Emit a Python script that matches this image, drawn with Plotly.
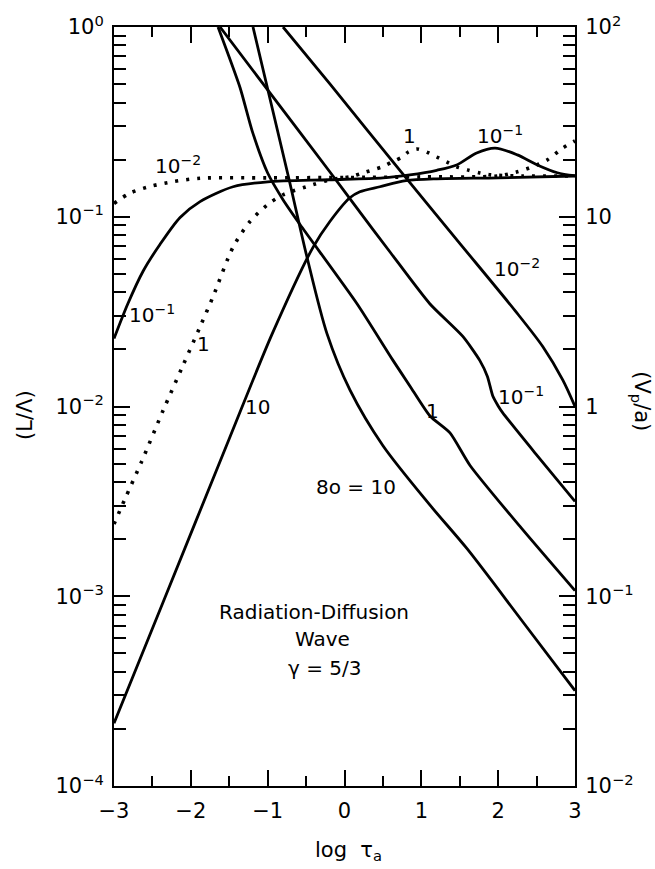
import plotly.graph_objects as go

# ---------------- data ----------------
# L/Lambda curves (left axis), labelled by the parameter value
x_L_001 = [-3, -2.79, -2.53, -2.23, -1.88, -1.0, 0.0, 1.0, 2.0, 2.25, 2.41, 2.64, 2.84, 3.0]
L_001 = [0.1175, 0.1334, 0.1445, 0.1531, 0.1596, 0.1603, 0.161, 0.1622, 0.164, 0.1726, 0.1811, 0.1995, 0.230, 0.251]

x_L_01 = [-3, -2.82, -2.62, -2.40, -2.14, -1.88, -1.45, -1.0, -0.2, 0.5, 0.85, 1.2, 1.46, 1.72, 1.96, 2.25, 2.51, 2.77, 3.0]
L_01 = [0.0228, 0.0348, 0.0518, 0.0716, 0.0991, 0.1202, 0.1439, 0.1528, 0.1567, 0.1603, 0.1663, 0.1758, 0.1875, 0.2168, 0.2301, 0.2118, 0.1875, 0.1706, 0.1644]

x_L_1 = [-3, -2.86, -2.64, -2.36, -2.11, -1.88, -1.71, -1.45, -1.23, -1.0, -0.8, -0.41, -0.19, 0.07, 0.24, 0.49, 0.62, 0.75, 0.83, 0.94, 1.07, 1.2, 1.33, 1.46, 1.6, 1.76, 1.9, 2.3, 3.0]
L_1 = [0.0024, 0.00324, 0.00513, 0.00955, 0.0162, 0.0263, 0.038, 0.0692, 0.0944, 0.1159, 0.1306, 0.1476, 0.1567, 0.1622, 0.1702, 0.1832, 0.1945, 0.2065, 0.2193, 0.2275, 0.2193, 0.2065, 0.1945, 0.1832, 0.1766, 0.1702, 0.1663, 0.1641, 0.1641]

x_L_10 = [-3, -2.36, -1.5, -0.94, -0.41, -0.19, 0.07, 0.2, 0.46, 0.8, 1.2, 2.0, 3.0]
L_10 = [2.14e-4, 9.33e-4, 6.76e-3, 0.0242, 0.069, 0.0944, 0.1259, 0.1355, 0.1439, 0.1549, 0.1585, 0.1603, 0.164]

# V_p/a curves (right axis)
x_V_001 = [-0.80, -0.19, 0.79, 1.5, 2.22, 2.58, 2.84, 3.0]
V_001 = [100, 50.1, 16.2, 7.24, 3.2, 2.07, 1.38, 1.0]

x_V_01 = [-1.62, -1.0, -0.15, 0.14, 0.6, 1.11, 1.54, 1.76, 1.86, 1.93, 2.0, 2.06, 2.5, 3.0]
V_01 = [100, 46.6, 16.4, 11.4, 6.46, 3.48, 2.34, 1.75, 1.44, 1.135, 1.007, 0.925, 0.556, 0.316]

x_V_1 = [-1.646, -1.36, -1.2, -1.0, -0.8, -0.579, 0.163, 0.631, 0.853, 1.113, 1.373, 1.634, 2.3, 3.0]
V_1 = [100, 48.0, 28.2, 17.0, 12.3, 9.10, 3.48, 1.75, 1.28, 0.891, 0.726, 0.489, 0.229, 0.107]

x_V_10 = [-1.191, -0.735, -0.488, -0.228, 0.072, 0.501, 1.113, 1.595, 2.3, 3.0]
V_10 = [100, 16.6, 6.12, 2.42, 1.219, 0.621, 0.302, 0.178, 0.0752, 0.0318]

x_ticks = [-3, -2, -1, 0, 1, 2, 3]
x_ticktext = ["\u22123", "\u22122", "\u22121", "0", "1", "2", "3"]
yl_ticks = [1, 0.1, 0.01, 0.001, 0.0001]
yl_ticktext = ["10<sup>0</sup>", "10<sup>\u22121</sup>", "10<sup>\u22122</sup>", "10<sup>\u22123</sup>", "10<sup>\u22124</sup>"]
yr_ticks = [100, 10, 1, 0.1, 0.01]
yr_ticktext = ["10<sup>2</sup>", "10", "1", "10<sup>\u22121</sup>", "10<sup>\u22122</sup>"]

FONT = "DejaVu Sans"
W = 2.8

fig = go.Figure()

def add(x, y, dotted=False, axis="y", smoothing=0.8):
    line = dict(color="black", width=3.6 if dotted else W, shape="spline", smoothing=smoothing)
    if dotted:
        line["dash"] = "3px,8px"
    fig.add_trace(go.Scatter(x=x, y=y, mode="lines", line=line, yaxis=axis,
                             showlegend=False, hoverinfo="skip"))

add(x_L_001, L_001, dotted=True)
add(x_L_01, L_01)
add(x_L_1, L_1, dotted=True)
add(x_L_10, L_10)
add(x_V_001, V_001, axis="y2")
add(x_V_01, V_01, axis="y2", smoothing=0.6)
add(x_V_1, V_1, axis="y2", smoothing=0.6)
add(x_V_10, V_10, axis="y2")

# curve labels (x, log10 of left-axis value)
labels = [
    ("10<sup>\u22122</sup>", -2.17, -0.727),
    ("10<sup>\u22121</sup>", -2.50, -1.511),
    ("1", -1.84, -1.668),
    ("10", -1.126, -2.003),
    ("1", 0.84, -0.575),
    ("10<sup>\u22121</sup>", 2.02, -0.570),
    ("10<sup>\u22122</sup>", 2.245, -1.271),
    ("10<sup>\u22121</sup>", 2.297, -1.945),
    ("1", 1.139, -2.024),
    ("8o = 10", 0.150, -2.426),
    ("Radiation-Diffusion", -0.397, -3.085),
    ("Wave", -0.280, -3.226),
    ("\u03b3 = 5/3", -0.254, -3.378),
]
for t, ax_, ay_ in labels:
    fig.add_annotation(x=ax_, y=ay_, xref="x", yref="y", text=t, showarrow=False,
                       xanchor="center", yanchor="middle",
                       font=dict(family=FONT, size=20, color="black"))

# axis titles
title_font = dict(family=FONT, size=21, color="black")
fig.add_annotation(x=0.508, y=-0.085, xref="paper", yref="paper", text="log  \u03c4<sub>a</sub>",
                   showarrow=False, xanchor="center", yanchor="middle", font=title_font)
fig.add_annotation(x=-0.193, y=0.489, xref="paper", yref="paper", text="(L/\u039b)",
                   showarrow=False, textangle=-90, xanchor="center", yanchor="middle", font=title_font)
fig.add_annotation(x=1.143, y=0.507, xref="paper", yref="paper", text="(V<sub>p</sub>/a)",
                   showarrow=False, textangle=90, xanchor="center", yanchor="middle", font=title_font)

axis_common = dict(showline=True, linecolor="black", linewidth=2, showgrid=False, zeroline=False,
                   ticks="inside", tickcolor="black", tickwidth=1.5, ticklen=16,
                   tickfont=dict(family=FONT, size=21, color="black"))

fig.update_layout(
    width=655, height=869,
    margin=dict(l=114, r=80, t=21, b=83),
    paper_bgcolor="white", plot_bgcolor="white",
    xaxis=dict(range=[-3, 3], tickmode="array", tickvals=x_ticks, ticktext=x_ticktext,
               mirror="ticks", ticklabelstandoff=5,
               minor=dict(ticks="inside", ticklen=10, tickcolor="black", tickwidth=1.5, dtick=0.5, tick0=0),
               **axis_common),
    yaxis=dict(type="log", range=[-4, 0], tickmode="array", tickvals=yl_ticks, ticktext=yl_ticktext,
               ticklabelstandoff=4,
               minor=dict(ticks="inside", ticklen=12, tickcolor="black", tickwidth=1.5, dtick="D1"),
               **axis_common),
    yaxis2=dict(type="log", range=[-2, 2], overlaying="y", side="right", tickmode="array",
                tickvals=yr_ticks, ticktext=yr_ticktext, ticklabelstandoff=4,
                minor=dict(ticks="inside", ticklen=12, tickcolor="black", tickwidth=1.5, dtick="D1"),
                **axis_common),
)

fig.write_html("out.html")
